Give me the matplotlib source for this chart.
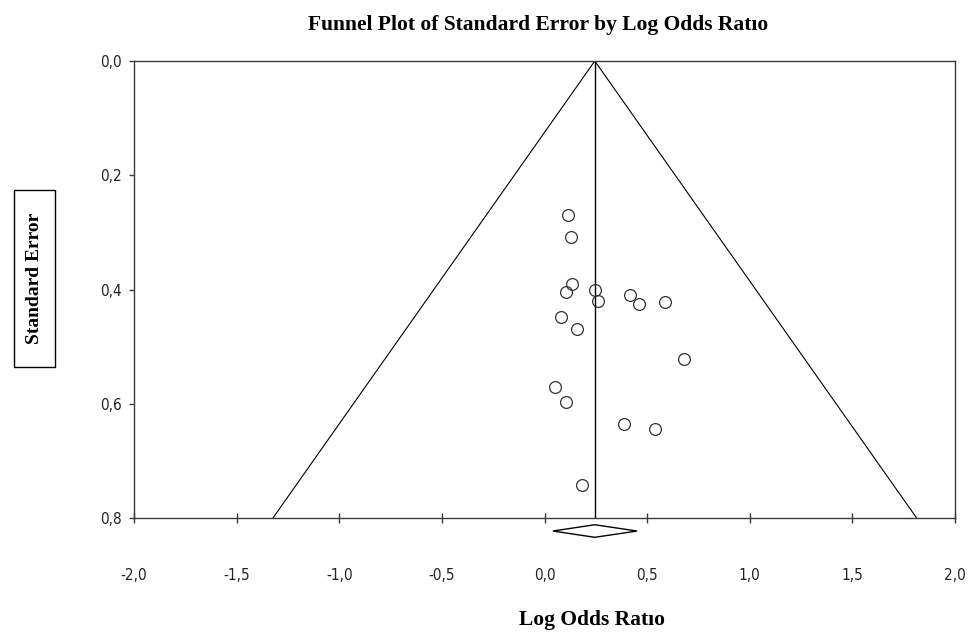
import matplotlib
matplotlib.use("Agg")
import matplotlib.pyplot as plt
import matplotlib.patches as patches
import numpy as np

# study estimates
log_odds = [0.114, 0.131, 0.134, 0.103, 0.245, 0.262, 0.415, 0.460, 0.589,
            0.079, 0.157, 0.680, 0.050, 0.106, 0.389, 0.538, 0.183]
std_err = [0.270, 0.3075, 0.390, 0.404, 0.401, 0.421, 0.409, 0.426, 0.422,
           0.448, 0.470, 0.522, 0.570, 0.597, 0.635, 0.644, 0.742]

pooled = 0.245
ci_low, ci_high = 0.041, 0.451
se_max = 0.8

x_ticks = [-2.0, -1.5, -1.0, -0.5, 0.0, 0.5, 1.0, 1.5, 2.0]
y_ticks = [0.0, 0.2, 0.4, 0.6, 0.8]

tick_font = ['DejaVu Sans']
label_font = ['Liberation Serif', 'DejaVu Serif']
axis_col = '#3a3a3a'

fig = plt.figure(figsize=(9.71, 6.32), dpi=100)
ax = fig.add_axes([134 / 971, 1 - 518 / 632, (955 - 134) / 971, (518 - 61) / 632])

# funnel (95% limits) and pooled line
ax.plot([pooled - 1.96 * se_max, pooled, pooled + 1.96 * se_max], [se_max, 0, se_max],
        color='black', lw=0.8)
ax.plot([pooled, pooled], [0, se_max], color='black', lw=1.0)

ax.plot(log_odds, std_err, linestyle='none', marker='o', markersize=8.5,
        markerfacecolor='none', markeredgecolor='#333333', markeredgewidth=0.9)

# pooled estimate diamond under the axis
dh = 0.011
dy = se_max + 0.0228
diamond = patches.Polygon([[ci_low, dy], [pooled, dy - dh], [ci_high, dy], [pooled, dy + dh]],
                          closed=True, facecolor='white', edgecolor='black', lw=1.0,
                          clip_on=False)
ax.add_patch(diamond)

ax.set_xlim(-2.0, 2.0)
ax.set_ylim(se_max, 0.0)

ax.set_xticks(x_ticks)
ax.set_yticks(y_ticks)
ax.set_xticklabels([f"{v:.1f}".replace('.', ',') for v in x_ticks], family=tick_font,
                   fontsize=11, stretch='condensed', color='#222222')
ax.set_yticklabels([f"{v:.1f}".replace('.', ',') for v in y_ticks], family=tick_font,
                   fontsize=11, stretch='condensed', color='#222222')
ax.tick_params(axis='x', direction='inout', length=7, width=1, color=axis_col, pad=32.5)
ax.tick_params(axis='y', direction='out', length=3.5, width=1, color=axis_col, pad=5.5)

for side in ['left', 'bottom', 'top', 'right']:
    ax.spines[side].set_color(axis_col)
    ax.spines[side].set_linewidth(1.0)

fig.text(538.5 / 971, 1 - 25 / 632, "Funnel Plot of Standard Error by Log Odds Ratıo",
         ha='center', va='center', family=label_font, fontweight='bold', fontsize=15.5)
fig.text(591.5 / 971, 1 - 620 / 632, "Log Odds Ratıo",
         ha='center', va='center', family=label_font, fontweight='bold', fontsize=15.5)

box = patches.Rectangle((14 / 971, 1 - 367 / 632), 41 / 971, 177 / 632,
                        transform=fig.transFigure, facecolor='white', edgecolor='black', lw=1.0)
fig.patches.append(box)
fig.text(34.5 / 971, 1 - 278.5 / 632, "Standard Error", rotation=90,
         ha='center', va='center', family=label_font, fontweight='bold', fontsize=14)

fig.savefig('out.png', dpi=100)
